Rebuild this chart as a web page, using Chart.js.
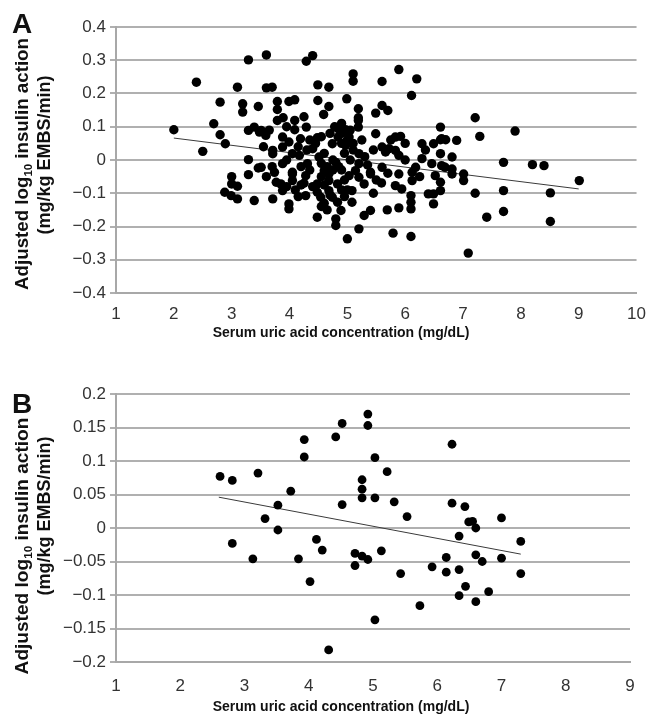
<!DOCTYPE html>
<html>
<head>
<meta charset="utf-8">
<script src="https://cdn.jsdelivr.net/npm/chart.js@4"></script>
<style>
  body { margin: 0; background: #fff; }
  #wrap { position: relative; width: 649px; height: 719px; }
  canvas { position: absolute; left: 0; }
  #chartA { top: 0; }
  #chartB { top: 360px; }
</style>
</head>
<body>
<div id="wrap">
  <canvas id="chartA" width="649" height="360"></canvas>
  <canvas id="chartB" width="649" height="359"></canvas>
</div>
<script>
// ---- panel A : all subjects ----
const uricA = [2.00, 2.39, 2.50, 2.69, 2.80, 2.89, 2.80, 3.10, 3.29, 3.19, 3.19, 3.29, 3.39, 3.46, 3.48, 3.29, 3.29, 3.46, 3.00, 3.00,
  3.10, 2.88, 2.99, 3.10, 3.39, 3.60, 4.29, 4.40, 4.49, 4.68, 5.10, 5.10, 5.89, 6.20, 5.60, 6.11, 3.60, 3.70, 3.79, 3.99,
  4.09, 3.79, 4.49, 4.68, 4.59, 4.99, 5.19, 5.19, 5.49, 5.60, 5.70, 3.89, 4.09, 3.79, 3.51, 3.59, 4.09, 4.29, 5.19, 5.19,
  4.84, 4.97, 4.84, 5.03, 5.49, 5.83, 5.92, 6.61, 3.88, 3.99, 4.19, 4.48, 6.29, 6.49, 6.63, 3.88, 4.74, 4.97, 4.40, 5.60,
  5.72, 5.83, 3.71, 4.05, 4.17, 4.51, 5.20, 5.66, 5.89, 6.29, 6.61, 3.51, 3.88, 4.31, 4.80, 5.20, 5.60, 6.18, 6.46, 6.69,
  3.74, 4.05, 4.68, 5.03, 5.40, 5.89, 3.71, 3.71, 3.99, 3.99, 3.85, 3.88, 3.77, 4.05, 4.28, 4.28, 4.48, 4.48, 4.48, 4.54,
  4.60, 4.68, 4.68, 4.74, 4.83, 4.83, 4.89, 4.80, 4.80, 5.00, 5.08, 5.08, 5.20, 5.29, 5.40, 5.14, 5.20, 5.29, 5.40, 5.59,
  5.69, 5.79, 5.89, 5.83, 5.94, 6.10, 6.10, 6.10, 6.10, 6.12, 6.12, 6.49, 6.49, 6.40, 6.61, 6.61, 6.52, 6.63, 6.81, 6.81,
  6.81, 7.01, 7.01, 7.21, 7.41, 7.09, 7.70, 7.70, 7.70, 8.20, 8.40, 8.51, 8.51, 9.01, 7.21, 7.29, 7.90, 6.61, 6.70, 6.89,
  4.05, 4.90, 5.00, 4.90, 5.10, 4.95, 5.05, 4.75, 4.60, 4.30, 4.35, 4.20, 4.55, 4.90, 5.00, 4.95, 4.60, 4.40, 4.25, 3.95,
  4.15, 4.55, 4.65, 4.75, 4.85, 4.95, 4.60, 4.70, 4.90, 4.55, 4.65, 4.35, 4.45, 4.55, 4.70, 4.78, 4.90, 5.05, 5.10, 5.25,
  5.30, 5.35, 5.45, 5.50, 5.70, 5.75, 5.45, 3.55, 3.65, 3.95, 4.15, 4.20, 4.10, 3.60, 3.70, 3.95, 4.25, 6.00, 6.25, 6.35,
  6.00];
const actionA = [0.091, 0.234, 0.026, 0.109, 0.076, 0.049, 0.174, 0.219, 0.301, 0.169, 0.144, 0.089, 0.099, 0.161, 0.084, 0.001, -0.044, -0.024, -0.050, -0.072,
  -0.079, -0.097, -0.107, -0.117, -0.122, 0.316, 0.297, 0.314, 0.226, 0.219, 0.259, 0.237, 0.272, 0.244, 0.236, 0.194, 0.217, 0.219, 0.176, 0.176,
  0.181, 0.152, 0.179, 0.161, 0.137, 0.184, 0.154, 0.127, 0.141, 0.164, 0.149, 0.127, 0.119, 0.119, 0.089, 0.074, 0.091, 0.099, 0.099, 0.119,
  0.094, 0.091, 0.069, 0.069, 0.079, 0.069, 0.071, 0.099, 0.069, 0.054, 0.064, 0.067, 0.049, 0.049, 0.064, 0.039, 0.049, 0.044, 0.034, 0.039,
  0.034, 0.029, 0.019, 0.019, 0.014, 0.009, 0.019, 0.024, 0.014, 0.004, 0.019, -0.022, -0.011, -0.011, -0.007, -0.011, -0.022, -0.022, -0.011, -0.022,
  -0.037, -0.042, -0.042, -0.047, -0.042, -0.042, 0.029, -0.117, -0.132, -0.147, -0.072, -0.092, -0.067, -0.062, -0.047, -0.107, -0.072, -0.097, -0.172, -0.112,
  -0.032, -0.062, -0.092, -0.112, -0.127, -0.072, -0.152, -0.177, -0.197, -0.237, -0.127, -0.092, -0.207, -0.167, -0.152, -0.032, -0.052, -0.072, -0.037, -0.069,
  -0.150, -0.220, -0.144, -0.077, -0.087, -0.230, -0.147, -0.127, -0.107, -0.037, -0.062, -0.102, -0.132, -0.102, -0.092, -0.067, -0.047, -0.017, 0.009, -0.027,
  -0.042, -0.042, -0.062, -0.100, -0.172, -0.280, -0.007, -0.092, -0.155, -0.014, -0.017, -0.099, -0.185, -0.062, 0.127, 0.071, 0.087, 0.061, 0.061, 0.059,
  -0.037, 0.080, 0.060, 0.050, 0.050, 0.020, 0.000, 0.000, 0.020, 0.030, 0.060, -0.020, -0.050, -0.030, -0.090, -0.110, -0.130, -0.080, -0.070, -0.080,
  -0.110, -0.010, -0.020, -0.030, -0.020, -0.060, -0.075, -0.105, -0.090, -0.140, -0.150, -0.030, 0.050, 0.070, 0.080, 0.100, 0.110, 0.090, 0.030, 0.060,
  0.010, -0.015, 0.030, -0.060, -0.040, 0.060, -0.100, 0.040, 0.090, 0.100, 0.040, -0.075, -0.090, -0.050, -0.020, 0.000, 0.130, 0.000, -0.050, 0.030,
  0.050];
const fitXA = [2, 9];
const fitYA = [0.066, -0.087];
const xTicksA = [1, 2, 3, 4, 5, 6, 7, 8, 9, 10];
const yTicksA = [-0.4, -0.3, -0.2, -0.1, 0, 0.1, 0.2, 0.3, 0.4];

// ---- panel B ----
const uricB = [2.62, 2.81, 3.21, 2.81, 3.13, 3.32, 3.52, 3.52, 3.72, 3.84, 3.93, 3.93, 4.02, 4.12, 4.21, 4.31, 4.42, 4.52, 4.52, 4.72,
  4.72, 4.83, 4.83, 4.83, 4.83, 4.92, 4.92, 4.92, 5.03, 5.03, 5.03, 5.13, 5.22, 5.33, 5.43, 5.53, 5.73, 5.92, 6.14, 6.14,
  6.23, 6.23, 6.34, 6.34, 6.34, 6.43, 6.44, 6.49, 6.55, 6.60, 6.60, 6.60, 6.70, 6.80, 7.00, 7.00, 7.30, 7.30];
const actionB = [0.077, 0.071, 0.082, -0.023, -0.046, 0.014, 0.034, -0.003, 0.055, -0.046, 0.132, 0.106, -0.080, -0.017, -0.033, -0.182, 0.136, 0.156, 0.035, -0.038,
  -0.056, 0.072, 0.058, 0.045, -0.042, 0.170, 0.153, -0.047, 0.105, 0.045, -0.137, -0.034, 0.084, 0.039, -0.068, 0.017, -0.116, -0.058, -0.044, -0.066,
  0.125, 0.037, -0.012, -0.062, -0.101, 0.032, -0.087, 0.009, 0.010, 0.000, -0.040, -0.110, -0.050, -0.095, 0.015, -0.045, -0.020, -0.068];
const fitXB = [2.6, 7.3];
const fitYB = [0.046, -0.039];
const xTicksB = [1, 2, 3, 4, 5, 6, 7, 8, 9];
const yTicksB = [-0.2, -0.15, -0.1, -0.05, 0, 0.05, 0.1, 0.15, 0.2];

const FONT = '"Liberation Sans", Arial, Helvetica, sans-serif';
Chart.defaults.font.family = FONT;

function fmt(v) {
    let r = Math.round(v * 100) / 100;
    if (r < 0) return '\u2212' + Math.abs(r);
    return String(r);
}

// panel letter, x title and y title (with subscript 10)
const panelText = {
    id: 'panelText',
    afterDraw(chart, args, o) {
        const ctx = chart.ctx;
        ctx.save();
        ctx.fillStyle = '#111';
        ctx.textBaseline = 'alphabetic';
        ctx.font = 'bold 28px ' + FONT;
        ctx.fillText(o.letter, 12, o.letterY);

        ctx.font = 'bold 14px ' + FONT;
        ctx.textAlign = 'center';
        ctx.textBaseline = 'middle';
        ctx.fillText('Serum uric acid concentration (mg/dL)', 341, o.xTitleY);
        ctx.textAlign = 'left';
        ctx.textBaseline = 'alphabetic';

        // line 1
        const big = 'bold 18px ' + FONT, small = 'bold 11px ' + FONT;
        const p1 = 'Adjusted log', p2 = '10', p3 = ' insulin action';
        ctx.font = big; const w1 = ctx.measureText(p1).width, w3 = ctx.measureText(p3).width;
        ctx.font = small; const w2 = ctx.measureText(p2).width;
        const tot = w1 + w2 + w3;
        ctx.save();
        ctx.translate(28, o.line1Y);
        ctx.rotate(-Math.PI / 2);
        ctx.scale(o.stretch, 1);
        let x = -tot / 2;
        ctx.font = big; ctx.fillText(p1, x, 0); x += w1;
        ctx.font = small; ctx.fillText(p2, x, 4); x += w2;
        ctx.font = big; ctx.fillText(p3, x, 0);
        ctx.restore();

        // line 2
        ctx.save();
        ctx.translate(50, o.line2Y);
        ctx.rotate(-Math.PI / 2);
        ctx.font = big;
        ctx.textAlign = 'center';
        ctx.fillText('(mg/kg EMBS/min)', 0, 0);
        ctx.restore();
        ctx.restore();
    }
};

function makeChart(id, xs, ys, fx, fy, xt, yt, o) {
    const pts = xs.map((x, i) => ({ x: x, y: ys[i] }));
    const fit = fx.map((x, i) => ({ x: x, y: fy[i] }));
    return new Chart(document.getElementById(id), {
        type: 'scatter',
        data: {
            datasets: [{
                data: pts,
                pointRadius: o.r,
                pointBackgroundColor: '#000',
                pointBorderWidth: 0
            }, {
                type: 'line',
                data: fit,
                borderColor: '#3a3a3a',
                borderWidth: 1,
                pointRadius: 0,
                fill: false
            }]
        },
        options: {
            responsive: false,
            animation: false,
            events: [],
            layout: { padding: { left: 0, top: o.top, right: o.right, bottom: 0 } },
            plugins: {
                legend: { display: false },
                tooltip: { enabled: false },
                panelText: o.text
            },
            scales: {
                x: {
                    type: 'linear',
                    min: xt[0], max: xt[xt.length - 1],
                    afterBuildTicks: s => { s.ticks = xt.map(v => ({ value: v })); },
                    afterFit: s => { s.height = o.xh; },
                    grid: { display: false },
                    border: { display: true, color: '#a8a8a8', width: 2 },
                    ticks: { color: '#333', font: { size: 17 }, padding: o.tickPad, maxRotation: 0 }
                },
                y: {
                    min: yt[0], max: yt[yt.length - 1],
                    afterBuildTicks: s => { s.ticks = yt.map(v => ({ value: v })); },
                    afterFit: s => { s.width = 116; },
                    grid: { color: '#b0b0b0', lineWidth: 2, tickLength: 6 },
                    border: { display: true, color: '#a8a8a8', width: 2 },
                    ticks: { color: '#333', font: { size: 17 }, padding: 4, callback: fmt }
                }
            }
        },
        plugins: [panelText]
    });
}

makeChart('chartA', uricA, actionA, fitXA, fitYA, xTicksA, yTicksA,
    { r: 4.7, top: 27, right: 10, xh: 67, tickPad: 3,
      text: { letter: 'A', letterY: 33, xTitleY: 333, line1Y: 164, line2Y: 155, stretch: 1.04 } });

makeChart('chartB', uricB, actionB, fitXB, fitYB, xTicksB, yTicksB,
    { r: 4.4, top: 34, right: 19, xh: 57, tickPad: 6,
      text: { letter: 'B', letterY: 53, xTitleY: 347, line1Y: 186, line2Y: 156, stretch: 1.06 } });
</script>
</body>
</html>
